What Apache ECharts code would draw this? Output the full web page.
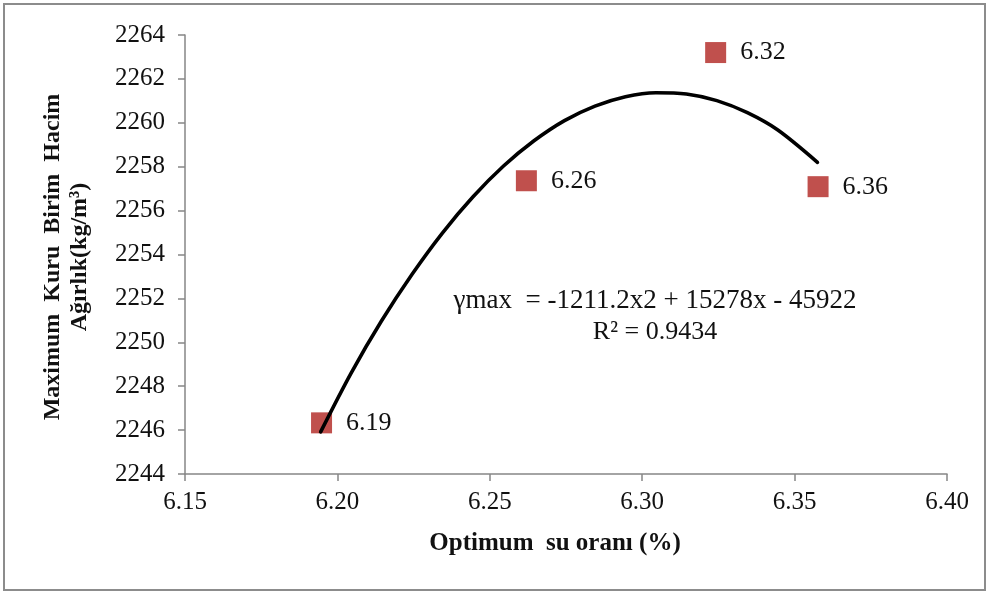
<!DOCTYPE html>
<html>
<head>
<meta charset="utf-8">
<script src="https://cdn.jsdelivr.net/npm/echarts@6/dist/echarts.min.js"></script>
<style>
  html, body { margin: 0; padding: 0; background: #fff; }
  #chart { width: 989px; height: 595px; }
</style>
</head>
<body>
<div id="chart"></div>
<script>
// Measured points: optimum water content (%) vs. max dry unit weight (kg/m³)
const waterContent = [6.1948, 6.2620, 6.3241, 6.3577];
const dryUnitWeight = [2246.33, 2257.36, 2263.20, 2257.09];

// Polynomial trend line, sampled along its length
const trendX = [6.1945, 6.2045, 6.2145, 6.2245, 6.2345, 6.2445, 6.2545, 6.2645, 6.2745,
                6.2845, 6.2945, 6.3045, 6.3145, 6.3245, 6.3345, 6.3445, 6.3575];
const trendY = [2245.92, 2248.60, 2250.98, 2253.10, 2254.99, 2256.63, 2258.03, 2259.18, 2260.10,
                2260.76, 2261.19, 2261.37, 2261.31, 2261.01, 2260.46, 2259.67, 2258.2];

// Axis ranges and tick steps
const xMin = 6.15, xMax = 6.40, xStep = 0.05;
const yMin = 2244, yMax = 2264, yStep = 2;

const xTitle = 'Optimum  su oranı (%)';
const yTitleLines = ['Maximum  Kuru  Birim  Hacim', 'Ağırlık(kg/m³)'];
const equationText = 'γmax  = -1211.2x2 + 15278x - 45922';
const r2Text = 'R² = 0.9434';

const serif = '"Liberation Serif", "DejaVu Serif", serif';
const axisGrey = '#868686';
const ink = '#111';

const chart = echarts.init(document.getElementById('chart'), null, { renderer: 'canvas' });

chart.setOption({
  animation: false,
  backgroundColor: '#ffffff',
  grid: { left: 185, right: 42, top: 35, bottom: 121 },
  xAxis: {
    type: 'value',
    min: xMin, max: xMax, interval: xStep,
    axisLine: { show: true, lineStyle: { color: axisGrey, width: 1.5 } },
    axisTick: { show: true, inside: false, length: 7, lineStyle: { color: axisGrey, width: 1.5 } },
    splitLine: { show: false },
    axisLabel: {
      margin: 16, fontFamily: serif, fontSize: 25, color: ink,
      formatter: v => v.toFixed(2)
    }
  },
  yAxis: {
    type: 'value',
    min: yMin, max: yMax, interval: yStep,
    axisLine: { show: true, lineStyle: { color: axisGrey, width: 1.5 } },
    axisTick: { show: true, inside: false, length: 7, lineStyle: { color: axisGrey, width: 1.5 } },
    splitLine: { show: false },
    axisLabel: {
      margin: 20, fontFamily: serif, fontSize: 25, color: ink,
      formatter: v => String(v)
    }
  },
  series: [
    {
      name: 'trend',
      type: 'line',
      data: trendX.map((x, i) => [x, trendY[i]]),
      smooth: 0.3,
      showSymbol: false,
      symbol: 'none',
      lineStyle: { color: '#000', width: 3.6, join: 'round', cap: 'round' },
      z: 3
    },
    {
      name: 'points',
      type: 'scatter',
      data: waterContent.map((x, i) => [x, dryUnitWeight[i]]),
      symbol: 'rect',
      symbolSize: 21,
      itemStyle: { color: '#c0504d', opacity: 1 },
      label: {
        show: true,
        position: 'right',
        distance: 14,
        fontFamily: serif,
        fontSize: 26,
        color: ink,
        formatter: p => p.value[0].toFixed(2)
      },
      z: 2
    }
  ],
  graphic: [
    {
      type: 'rect',
      shape: { x: 4, y: 4, width: 981, height: 586 },
      style: { fill: 'none', stroke: '#8c8c8c', lineWidth: 2 },
      silent: true
    },
    {
      type: 'text',
      x: 53, y: 257, rotation: Math.PI / 2,
      style: {
        text: yTitleLines[0], fontFamily: serif, fontSize: 24, fontWeight: 'bold',
        fill: ink, align: 'center', verticalAlign: 'middle'
      }
    },
    {
      type: 'text',
      x: 80, y: 257, rotation: Math.PI / 2,
      style: {
        text: yTitleLines[1], fontFamily: serif, fontSize: 24, fontWeight: 'bold',
        fill: ink, align: 'center', verticalAlign: 'middle'
      }
    },
    {
      type: 'text',
      x: 555, y: 544,
      style: {
        text: xTitle, fontFamily: serif, fontSize: 25, fontWeight: 'bold',
        fill: ink, align: 'center', verticalAlign: 'middle'
      }
    },
    {
      type: 'text',
      x: 655, y: 301,
      style: {
        text: equationText, fontFamily: serif, fontSize: 27,
        fill: ink, align: 'center', verticalAlign: 'middle'
      }
    },
    {
      type: 'text',
      x: 655, y: 332,
      style: {
        text: r2Text, fontFamily: serif, fontSize: 26,
        fill: ink, align: 'center', verticalAlign: 'middle'
      }
    }
  ]
});
</script>
</body>
</html>
